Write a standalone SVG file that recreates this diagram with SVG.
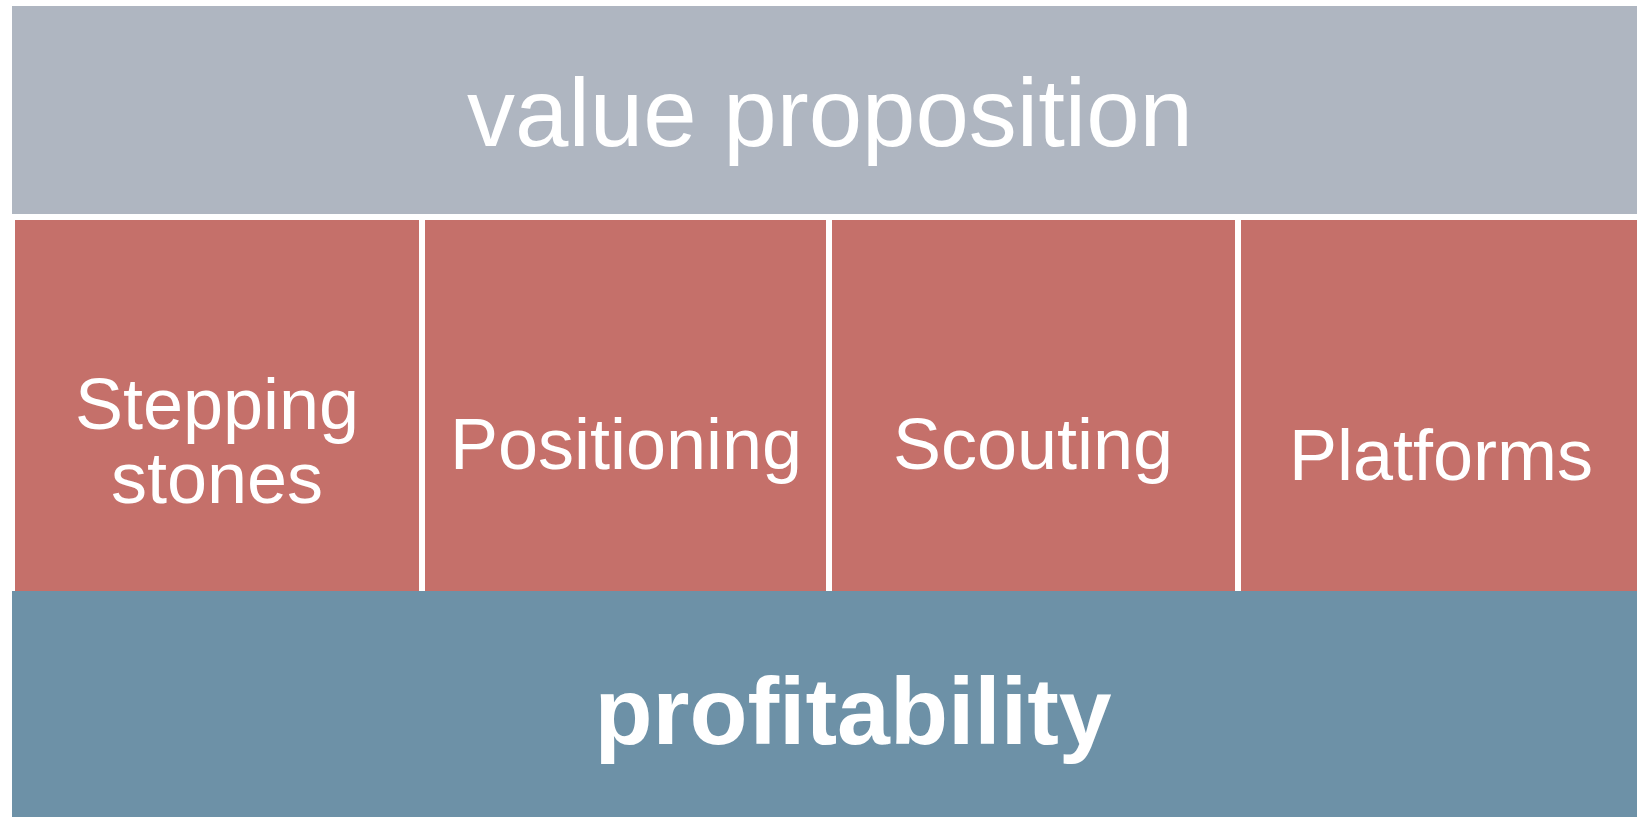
<svg xmlns="http://www.w3.org/2000/svg" width="1637" height="817" viewBox="0 0 1637 817">
<style>
.t{fill:#fff;font-family:"Liberation Sans",Arial,sans-serif;text-anchor:middle}
.col{fill:#C5706A}
</style>
<rect x="0" y="0" width="1637" height="817" fill="#fff"/>
<g id="value-proposition">
<rect x="12" y="6" width="1625" height="208" fill="#AFB6C1"/>
<text class="t" x="830" y="146" font-size="96">value proposition</text>
</g>
<g id="stepping-stones">
<rect class="col" x="15" y="220" width="404" height="371"/>
<text class="t" x="217" y="429" font-size="72">Stepping</text>
<text class="t" x="217" y="503" font-size="72">stones</text>
</g>
<g id="positioning">
<rect class="col" x="425" y="220" width="401" height="371"/>
<text class="t" x="626" y="469" font-size="72">Positioning</text>
</g>
<g id="scouting">
<rect class="col" x="832" y="220" width="403" height="371"/>
<text class="t" x="1033" y="469" font-size="72">Scouting</text>
</g>
<g id="platforms">
<rect class="col" x="1241" y="220" width="396" height="371"/>
<text class="t" x="1441" y="480" font-size="72">Platforms</text>
</g>
<g id="profitability">
<rect x="12" y="591" width="1625" height="226" fill="#6D91A7"/>
<text class="t" x="853" y="744" font-size="95" font-weight="bold">profitability</text>
</g>
<g id="connectors"></g>
</svg>
